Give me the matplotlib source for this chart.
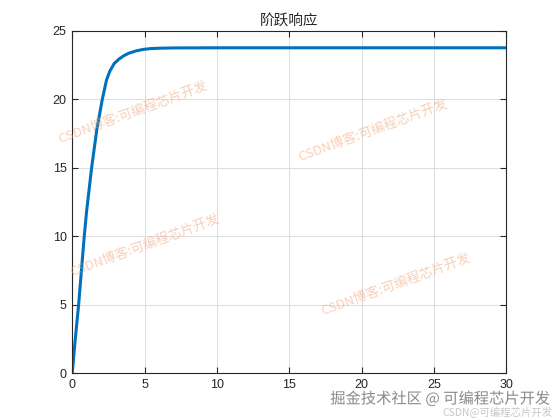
import matplotlib
matplotlib.use("Agg")
import matplotlib.pyplot as plt
import matplotlib.patheffects as pe

plt.rcParams['font.family'] = ['Liberation Sans', 'Noto Sans CJK SC', 'DejaVu Sans']

title = "阶跃响应"
t = [0, 0.2, 0.44, 0.83, 1.0, 1.34, 1.7, 2.08, 2.37, 2.6, 2.9, 3.2, 3.53, 3.9, 4.4, 4.9, 5.4, 6.0, 7.0, 10, 15, 20, 25, 30]
y = [0, 2.4, 5.0, 10.0, 11.9, 15.0, 17.8, 20.0, 21.4, 22.05, 22.6, 22.9, 23.15, 23.35, 23.52, 23.63, 23.69, 23.72, 23.74, 23.75, 23.75, 23.75, 23.75, 23.75]
xticks = [0, 5, 10, 15, 20, 25, 30]
yticks = [0, 5, 10, 15, 20, 25]

watermark = "CSDN博客:可编程芯片开发"
wm_pos = [(133, 113), (373, 131), (145, 246), (396, 285)]

fig = plt.figure(figsize=(5.6, 4.2), dpi=100)
ax = fig.add_axes([0.129, 0.111, 0.775, 0.816])
ax.plot(t, y, color='#0072BD', lw=2.2, solid_capstyle='butt')
ax.set_xlim(0, 30)
ax.set_ylim(0, 25)
ax.set_xticks(xticks)
ax.set_yticks(yticks)
ax.grid(True, color='#dcdcdc', lw=0.7)
ax.set_axisbelow(True)
ax.tick_params(direction='in', length=4, width=0.8, top=True, right=True, labelsize=9, colors='#262626', pad=4)
for s in ax.spines.values():
    s.set_color('#262626')
    s.set_linewidth(0.8)
ax.set_title(title, family=['Noto Sans CJK SC', 'DejaVu Sans'], fontsize=10.5, color='#262626', pad=4)

for (px, py) in wm_pos:
    fig.text(px / 560, 1 - py / 420, watermark, family=['Noto Sans CJK SC', 'DejaVu Sans'],
             fontsize=9.5, color='#f0a070', alpha=0.5, rotation=20,
             ha='center', va='center')

fig.text(440 / 560, 1 - 399 / 420, "掘金技术社区 @ 可编程芯片开发", family=['Noto Sans CJK SC', 'DejaVu Sans'],
         fontsize=11, color='#8a8a8a', ha='center', va='center',
         path_effects=[pe.withStroke(linewidth=2, foreground='white')])
fig.text(497 / 560, 1 - 412 / 420, "CSDN@可编程芯片开发", family=['Noto Sans CJK SC', 'DejaVu Sans'],
         fontsize=7.5, color='#c8c8c8', ha='center', va='center')

fig.savefig("out.png", dpi=100)
